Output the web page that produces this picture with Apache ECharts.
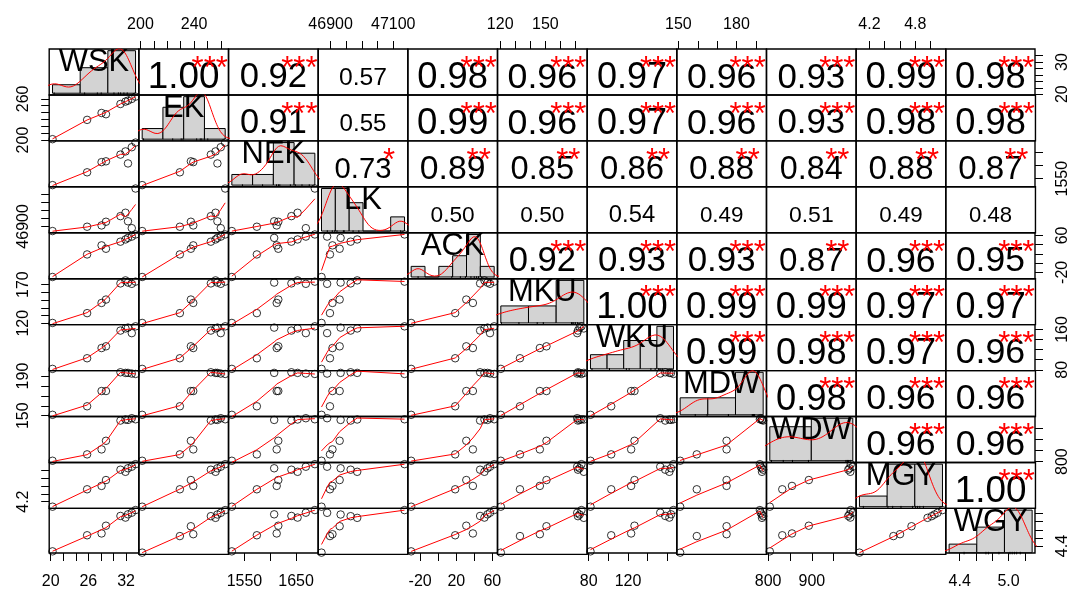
<!DOCTYPE html>
<html>
<head>
<meta charset="utf-8">
<script src="https://cdn.jsdelivr.net/npm/echarts@6/dist/echarts.min.js"></script>
<style>
  html, body { margin: 0; padding: 0; background: #fff; }
  #chart { width: 1071px; height: 590px; }
</style>
</head>
<body>
<div id="chart"></div>
<script>
// ---- observations (9 per variable) ----
const names = ['WSK', 'EK', 'NEK', 'LK', 'ACK', 'MKU', 'WKU', 'MDW', 'WDW', 'MGY', 'WGY'];
const WSK = [20.3, 25.8, 28.1, 28.8, 31.1, 31.9, 32.3, 32.9, 33.5];
const EK  = [201.3, 229.4, 239.4, 237.6, 252.5, 256.0, 257.4, 259.9, 263.2];
const NEK = [1525.5, 1574, 1612.5, 1615.6, 1641, 1653, 1607.6, 1669, 1686.5];
const LK  = [46871, 46898, 46906, 46929, 46964, 46985, 46932, 46889, 47136];
const ACK = [-30, 18.8, 38.4, 31.1, 46.4, 51.2, 54.6, 57.4, 62];
const MKU = [120.4, 133.1, 146.3, 150.7, 171.6, 175.5, 172.7, 171.1, 173.9];
const WKU = [81.8, 102.9, 123.2, 126.6, 157.9, 162.1, 163.8, 152.8, 166.3];
const MDW = [150.9, 159.5, 174.9, 174.9, 193.8, 193.2, 193.2, 192.5, 192.1];
const WDW = [803.9, 832.4, 854.6, 893.1, 983.3, 988, 986.1, 993.7, 989];
const MGY = [4.07, 4.514, 4.60, 4.75, 5.014, 4.96, 5.05, 5.09, 5.155];
const WGY = [4.27, 4.665, 4.71, 4.9, 5.14, 5.1, 5.18, 5.22, 5.285];

// ---- correlation coefficients (upper triangle, row by row) ----
const corrRows = [
  [1.00, 0.92, 0.57, 0.98, 0.96, 0.97, 0.96, 0.93, 0.99, 0.98],
  [0.91, 0.55, 0.99, 0.96, 0.97, 0.96, 0.93, 0.98, 0.98],
  [0.73, 0.89, 0.85, 0.86, 0.88, 0.84, 0.88, 0.87],
  [0.50, 0.50, 0.54, 0.49, 0.51, 0.49, 0.48],
  [0.92, 0.93, 0.93, 0.87, 0.96, 0.95],
  [1.00, 0.99, 0.99, 0.97, 0.97],
  [0.99, 0.98, 0.97, 0.96],
  [0.98, 0.96, 0.96],
  [0.96, 0.96],
  [1.00]
];
const starRows = [
  ['***', '***', '', '***', '***', '***', '***', '***', '***', '***'],
  ['***', '', '***', '***', '***', '***', '***', '***', '***'],
  ['*', '**', '**', '**', '**', '**', '**', '**'],
  ['', '', '', '', '', '', ''],
  ['***', '***', '***', '**', '***', '***'],
  ['***', '***', '***', '***', '***'],
  ['***', '***', '***', '***'],
  ['***', '***', '***'],
  ['***', '***'],
  ['***']
];

// ---- histogram break points ----
const histBreaks = [
  [20, 25, 30, 35],
  [200, 220, 240, 260, 280],
  [1500, 1550, 1600, 1650, 1700],
  [46850, 46900, 46950, 47000, 47050, 47100, 47150],
  [-40, -20, 0, 20, 40, 60, 80],
  [120, 140, 160, 180],
  [80, 100, 120, 140, 160, 180],
  [140, 160, 180, 200],
  [800, 900, 1000],
  [4.0, 4.5, 5.0, 5.5],
  [4.0, 4.5, 5.0, 5.5]
];

// ---- axis ticks and labelled ticks ----
const axisTicks = [
  [20, 22, 24, 26, 28, 30, 32],
  [200, 210, 220, 230, 240, 250, 260],
  [1550, 1600, 1650],
  [46900, 46950, 47000, 47050, 47100],
  [-20, 0, 20, 40, 60],
  [120, 130, 140, 150, 160, 170],
  [80, 100, 120, 140, 160],
  [150, 160, 170, 180, 190],
  [800, 850, 900, 950],
  [4.2, 4.4, 4.6, 4.8, 5.0],
  [4.4, 4.6, 4.8, 5.0, 5.2]
];
const xTickLabels = [
  [20, 26, 32], [200, 240], [1550, 1650], [46900, 47100], [-20, 20, 60],
  [120, 150], [80, 120], [150, 180], [800, 900], [4.2, 4.8], [4.4, 5.0]
];
const yTickLabels = [
  [20, 30], [200, 260], [1550], [46900], [-20, 60],
  [120, 170], [80, 160], [150, 190], [800], [4.2], [4.4]
];
const labelDigits = [0, 0, 0, 0, 0, 0, 0, 0, 0, 1, 1];

const vars = [WSK, EK, NEK, LK, ACK, MKU, WKU, MDW, WDW, MGY, WGY];
const N = names.length;
const FONT = '"Liberation Sans", Arial, sans-serif';

// layout of the panel matrix
const L = 49.2, T = 49.0, CW = 89.66, CH = 45.94;

function ext(lo, hi) { const d = hi - lo; return [lo - 0.04 * d, hi + 0.04 * d]; }
const ranges = vars.map(v => ext(Math.min(...v), Math.max(...v)));

// ---- locally weighted smoother (Cleveland's lowess) ----
function lowest(x, y, n, xs, nleft, nright, w, userw, rw) {
  const range = x[n - 1] - x[0];
  const h = Math.max(xs - x[nleft], x[nright] - xs);
  const h9 = 0.999 * h, h1 = 0.001 * h;
  let a = 0, j = nleft;
  while (j < n) {
    w[j] = 0;
    const r = Math.abs(x[j] - xs);
    if (r <= h9) {
      w[j] = r <= h1 ? 1 : Math.pow(1 - Math.pow(r / h, 3), 3);
      if (userw) w[j] *= rw[j];
      a += w[j];
    } else if (x[j] > xs) break;
    j++;
  }
  const nrt = j - 1;
  if (a <= 0) return null;
  for (j = nleft; j <= nrt; j++) w[j] /= a;
  if (h > 0) {
    a = 0;
    for (j = nleft; j <= nrt; j++) a += w[j] * x[j];
    let b = xs - a, c = 0;
    for (j = nleft; j <= nrt; j++) c += w[j] * (x[j] - a) * (x[j] - a);
    if (Math.sqrt(c) > 0.001 * range) {
      b /= c;
      for (j = nleft; j <= nrt; j++) w[j] *= (b * (x[j] - a) + 1);
    }
  }
  let ys = 0;
  for (j = nleft; j <= nrt; j++) ys += w[j] * y[j];
  return ys;
}
function lowess(xIn, yIn, f = 2 / 3, nsteps = 0) {
  const n = xIn.length;
  const idx = xIn.map((_, i) => i).sort((a, b) => (xIn[a] - xIn[b]) || (a - b));
  const x = idx.map(i => xIn[i]), y = idx.map(i => yIn[i]);
  const delta = 0.01 * (x[n - 1] - x[0]);
  const ns = Math.max(2, Math.min(n, Math.floor(f * n + 1e-7)));
  const ys = new Array(n).fill(0), rw = new Array(n).fill(1);
  const res = new Array(n).fill(0), w = new Array(n).fill(0);
  for (let iter = 1; iter <= nsteps + 1; iter++) {
    let nleft = 0, nright = ns - 1, last = -1, i = 0;
    for (;;) {
      if (nright < n - 1) {
        const d1 = x[i] - x[nleft], d2 = x[nright + 1] - x[i];
        if (d1 > d2) { nleft++; nright++; continue; }
      }
      const v = lowest(x, y, n, x[i], nleft, nright, w, iter > 1, rw);
      ys[i] = v === null ? y[i] : v;
      if (last < i - 1) {
        const denom = x[i] - x[last];
        for (let j = last + 1; j < i; j++) {
          const alpha = (x[j] - x[last]) / denom;
          ys[j] = alpha * ys[i] + (1 - alpha) * ys[last];
        }
      }
      last = i;
      const cut = x[last] + delta;
      for (i = last + 1; i < n; i++) {
        if (x[i] > cut) break;
        if (x[i] === x[last]) { ys[i] = ys[last]; last = i; }
      }
      i = Math.max(last + 1, i - 1);
      if (last >= n - 1) break;
    }
    for (let k = 0; k < n; k++) res[k] = y[k] - ys[k];
    let sc = 0;
    for (let k = 0; k < n; k++) sc += Math.abs(res[k]);
    sc /= n;
    if (iter > nsteps) break;
    const ar = res.map(Math.abs);
    const sorted = ar.slice().sort((a, b) => a - b);
    const m1 = Math.floor(n / 2);
    const cmad = n % 2 === 0 ? 3 * (sorted[m1] + sorted[n - m1 - 1]) : 6 * sorted[m1];
    if (cmad < 1e-7 * sc) break;
    const c9 = 0.999 * cmad, c1 = 0.001 * cmad;
    for (let k = 0; k < n; k++) {
      const r = ar[k];
      rw[k] = r <= c1 ? 1 : (r <= c9 ? Math.pow(1 - Math.pow(r / cmad, 2), 2) : 0);
    }
  }
  return x.map((xv, k) => [xv, ys[k]]);
}

// ---- gaussian kernel density, rule-of-thumb bandwidth ----
function quantile7(s, p) {
  const h = (s.length - 1) * p, lo = Math.floor(h);
  const hi = Math.min(lo + 1, s.length - 1);
  return s[lo] + (h - lo) * (s[hi] - s[lo]);
}
function kde(v) {
  const n = v.length, m = v.reduce((a, b) => a + b, 0) / n;
  const sd = Math.sqrt(v.reduce((a, b) => a + (b - m) * (b - m), 0) / (n - 1));
  const s = v.slice().sort((a, b) => a - b);
  const iqr = quantile7(s, 0.75) - quantile7(s, 0.25);
  let lo = Math.min(sd, iqr / 1.34);
  if (!(lo > 0)) lo = sd || 1;
  const bw = 0.9 * lo * Math.pow(n, -0.2);
  const a = s[0] - 3 * bw, b = s[n - 1] + 3 * bw, pts = [];
  for (let k = 0; k < 512; k++) {
    const t = a + (b - a) * k / 511;
    let d = 0;
    for (const xv of v) d += Math.exp(-0.5 * ((t - xv) / bw) * ((t - xv) / bw));
    pts.push([t, d / (n * bw * Math.sqrt(2 * Math.PI))]);
  }
  return pts;
}

// ---- histogram densities from the break points ----
function histogram(v, br) {
  const n = v.length, bins = [];
  for (let k = 0; k < br.length - 1; k++) {
    const a = br[k], b = br[k + 1];
    const c = v.filter(x => (k === 0 ? x >= a : x > a) && x <= b).length;
    bins.push([a, b, c / (n * (b - a))]);
  }
  return bins;
}

const grids = [], xAxes = [], yAxes = [], series = [];
const hiddenAxis = { show: false };

function outerX(j, pos) {
  return {
    show: true, position: pos,
    axisLine: { show: false }, splitLine: { show: false },
    axisTick: { show: true, inside: false, length: 8, customValues: axisTicks[j],
                lineStyle: { color: '#000', width: 1 } },
    axisLabel: { show: true, customValues: xTickLabels[j], margin: pos === 'top' ? 16 : 21,
                 fontSize: 16, color: '#000', fontFamily: FONT,
                 formatter: v => Number(v).toFixed(labelDigits[j]) }
  };
}
function outerY(i, pos) {
  return {
    show: true, position: pos,
    axisLine: { show: false }, splitLine: { show: false },
    axisTick: { show: true, inside: false, length: 8, customValues: axisTicks[i],
                lineStyle: { color: '#000', width: 1 } },
    axisLabel: { show: true, customValues: yTickLabels[i], rotate: 90, margin: pos === 'left' ? 18 : 20,
                 fontSize: 16, color: '#000', fontFamily: FONT,
                 formatter: v => Number(v).toFixed(labelDigits[i]) }
  };
}

function addGrid(i, j, border) {
  grids.push({
    left: L + j * CW, top: T + i * CH, width: CW, height: CH,
    show: border, borderColor: '#000', borderWidth: 1.4, backgroundColor: 'transparent'
  });
  return grids.length - 1;
}

// frame panels: each carries the variable ranges of its row and column
for (let i = 0; i < N; i++) {
  for (let j = 0; j < N; j++) {
    const g = addGrid(i, j, true);
    let xa = hiddenAxis, ya = hiddenAxis;
    if (i === 0 && j % 2 === 1) xa = outerX(j, 'top');
    if (i === N - 1 && j % 2 === 0) xa = outerX(j, 'bottom');
    if (j === 0 && i % 2 === 1) ya = outerY(i, 'left');
    if (j === N - 1 && i % 2 === 0) ya = outerY(i, 'right');
    xAxes.push(Object.assign({ type: 'value', gridIndex: g, min: ranges[j][0], max: ranges[j][1] }, xa));
    yAxes.push(Object.assign({ type: 'value', gridIndex: g, min: ranges[i][0], max: ranges[i][1] }, ya));

    if (i > j) {
      // scatter with smoother
      const pts = vars[j].map((xv, k) => [xv, vars[i][k]]);
      series.push({
        type: 'scatter', xAxisIndex: g, yAxisIndex: g, data: pts, silent: true,
        symbol: 'circle', symbolSize: 7.5,
        itemStyle: { color: 'rgba(0,0,0,0)', borderColor: '#000', borderWidth: 1 }
      });
      series.push({
        type: 'line', xAxisIndex: g, yAxisIndex: g, data: lowess(vars[j], vars[i]),
        showSymbol: false, silent: true, clip: true,
        lineStyle: { color: '#ff0000', width: 1 }
      });
    } else if (i < j) {
      // correlation coefficient with significance stars
      const r = corrRows[i][j - i - 1];
      const st = starRows[i][j - i - 1];
      const txt = r.toFixed(2);
      const fs = 0.8 * CW * (Math.abs(r) + 0.3) / 1.3 / 1.946;
      const fsStar = 31;
      series.push({
        type: 'custom', xAxisIndex: g, yAxisIndex: g, silent: true,
        data: [[(ranges[j][0] + ranges[j][1]) / 2, (ranges[i][0] + ranges[i][1]) / 2]],
        renderItem: (params) => {
          const cs = params.coordSys;
          return {
            type: 'group', children: [
              { type: 'text', x: cs.x + 0.5 * cs.width, y: cs.y + (1 - 0.37) * cs.height,
                style: { text: txt, fontSize: fs, fontFamily: FONT, fill: '#000',
                         align: 'center', verticalAlign: 'middle' } },
              { type: 'text', x: cs.x + 0.79 * cs.width, y: cs.y + (1 - 0.56) * cs.height,
                style: { text: st, fontSize: fsStar, fontFamily: FONT, fill: '#ff0000',
                         align: 'center', verticalAlign: 'middle' } }
            ]
          };
        }
      });
    }
  }
}

// diagonal: histogram, density curve, rug and variable name
for (let d = 0; d < N; d++) {
  const v = vars[d], br = histBreaks[d];
  const bins = histogram(v, br);
  const maxD = Math.max(...bins.map(b => b[2]));
  const g = addGrid(d, d, false);
  const xr = ext(br[0], br[br.length - 1]), yr = ext(0, maxD);
  xAxes.push({ type: 'value', gridIndex: g, min: xr[0], max: xr[1], show: false });
  yAxes.push({ type: 'value', gridIndex: g, min: yr[0], max: yr[1], show: false });
  series.push({
    type: 'custom', xAxisIndex: g, yAxisIndex: g, silent: true, data: bins,
    encode: { x: [0, 1], y: 2 },
    renderItem: (params, api) => {
      const p0 = api.coord([api.value(0), 0]);
      const p1 = api.coord([api.value(1), api.value(2)]);
      return { type: 'rect',
        shape: { x: p0[0], y: p1[1], width: p1[0] - p0[0], height: p0[1] - p1[1] },
        style: { fill: '#d3d3d3', stroke: '#000', lineWidth: 1 } };
    }
  });
  series.push({
    type: 'line', xAxisIndex: g, yAxisIndex: g, data: kde(v), showSymbol: false,
    silent: true, clip: true, lineStyle: { color: '#ff0000', width: 1 }
  });
  series.push({
    type: 'custom', xAxisIndex: g, yAxisIndex: g, silent: true,
    data: v.map(x => [x, yr[0]]),
    renderItem: (params, api) => {
      const p = api.coord([api.value(0), api.value(1)]);
      return { type: 'line', shape: { x1: p[0], y1: p[1], x2: p[0], y2: p[1] - 2.5 },
               style: { stroke: '#000', lineWidth: 1 } };
    }
  });
  const label = names[d];
  series.push({
    type: 'custom', xAxisIndex: g, yAxisIndex: g, silent: true,
    data: [[(xr[0] + xr[1]) / 2, (yr[0] + yr[1]) / 2]],
    renderItem: (params) => {
      const cs = params.coordSys;
      return { type: 'text', x: cs.x + 0.5 * cs.width, y: cs.y + (1 - 0.70) * cs.height,
        style: { text: label, fontSize: 0.9 * CW / 2.61, fontFamily: FONT, fill: '#000',
                 align: 'center', verticalAlign: 'middle' } };
    }
  });
}

const chart = echarts.init(document.getElementById('chart'), null, { renderer: 'canvas' });
chart.setOption({
  backgroundColor: '#fff',
  animation: false,
  textStyle: { fontFamily: FONT },
  grid: grids,
  xAxis: xAxes,
  yAxis: yAxes,
  series: series
});
</script>
</body>
</html>
